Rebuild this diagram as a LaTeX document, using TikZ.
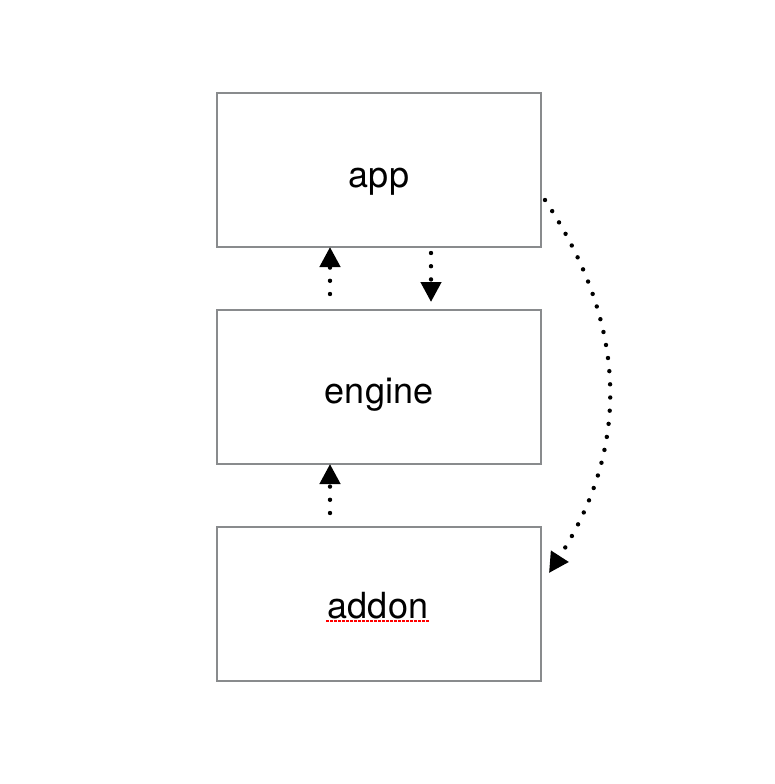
\documentclass[tikz,border=0pt]{standalone}
\usepackage{fontspec}
\setmainfont{TeX Gyre Heros}
\usetikzlibrary{arrows.meta,calc}
\definecolor{boxgray}{RGB}{137,139,141}
\begin{document}
\begin{tikzpicture}[x=1pt,y=-1pt,
  box/.style={draw=boxgray,line width=2.6pt,minimum width=324pt,minimum height=154pt,inner sep=0pt,outer sep=0pt},
  lbl/.style={font=\fontsize{36}{42}\selectfont,inner sep=0pt,anchor=base},
  dotarrow/.style={line width=4.4pt,line cap=round,dash pattern=on 0pt off 13.2pt,
    -{Triangle[length=20pt,width=20pt]}}]
\useasboundingbox (0,0) rectangle (774,784);
\node[box] (app) at (379,170) {};
\node[box] (engine) at (379,387) {};
\node[box] (addon) at (379,604) {};
\node[lbl] (tapp) at (379,187) {app};
\node[lbl] (tengine) at (379,403) {engine};
\node[lbl] (taddon) at (378,618) {addon};
\coordinate (u1) at (330,294);
\coordinate (d1) at (431,253);
\coordinate (d1e) at (431,302);
\coordinate (u2) at (330,513);
\coordinate (cs) at (545,200);
\coordinate (ce) at (549,573);
\coordinate (ul1) at (326,621);
\coordinate (ul2) at (430,621);
\draw[dotarrow] (u1) -- (u1 |- app.south);
\draw[dotarrow] (d1) -- (d1e);
\draw[dotarrow] (u2) -- (u2 |- engine.south);
\draw[dotarrow] (cs) .. controls (630,328) and (629,449) .. (ce);
\draw[red,line width=2pt,dash pattern=on 2.5pt off 1.5pt] (ul1) -- (ul2);
\end{tikzpicture}
\end{document}
